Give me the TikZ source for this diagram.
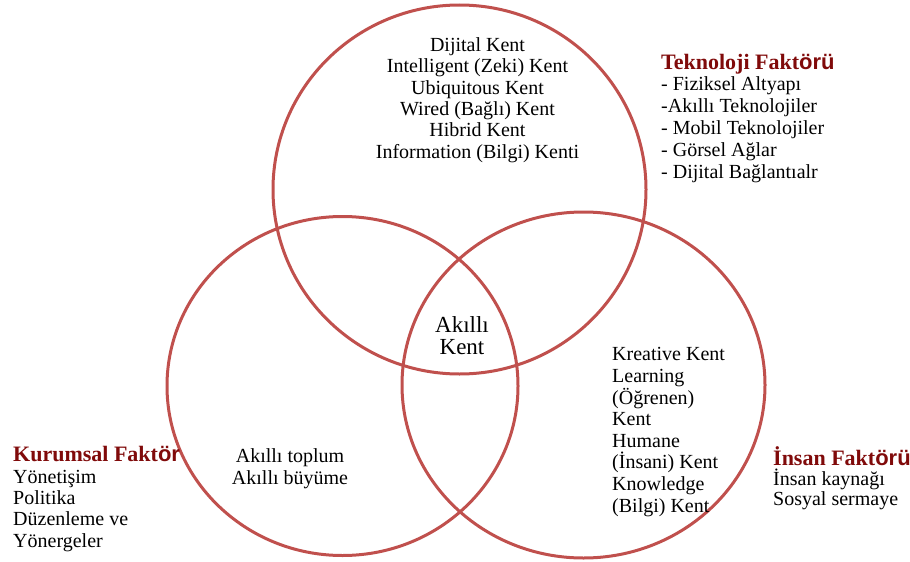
\documentclass[tikz,border=0pt]{standalone}
\usepackage{fontspec}
\setmainfont{Liberation Serif}
\newfontfamily\hsans{Liberation Sans}
\definecolor{ringred}{RGB}{192,80,77}
\definecolor{headred}{RGB}{128,10,10}
\tikzset{
  ring/.style={draw=ringred, line width=3pt},
  txt/.style={inner sep=0pt, font=\fontsize{20}{21.3}\selectfont},
  head/.style={txt, anchor=base west, align=left},
}
\newcommand{\hd}[2]{{\color{headred}\fontsize{22}{21}\selectfont\bfseries #1{\hsans\bfseries #2}}}
\begin{document}
\begin{tikzpicture}[x=1pt, y=-1pt]
        \useasboundingbox (0,0) rectangle (910,562);
        \draw[ring] (459.5,189.5) ellipse [x radius=186.5, y radius=184.5];
        \draw[ring] (342.5,386) ellipse [x radius=175.5, y radius=169.5];
        \draw[ring] (583.5,385) ellipse [x radius=181.5, y radius=173];

        % the last line of each node sits on the given point
        \node (tech) at (477.5,158) [txt, anchor=base, align=center]
          {Dijital Kent\\Intelligent (Zeki) Kent\\Ubiquitous Kent\\Wired (Bağlı) Kent\\Hibrid Kent\\Information (Bilgi) Kenti};
        \node (core) at (462,354) [inner sep=0pt, anchor=base, align=center,
          font=\fontsize{23}{22}\selectfont] {Akıllı\\Kent};
        \node (inst) at (290,484) [txt, anchor=base, align=center]
          {Akıllı toplum\\Akıllı büyüme};
        \node (human) at (612,512) [txt, anchor=base west, align=left,
          font=\fontsize{20}{21.6}\selectfont]
          {Kreative Kent\\Learning\\(Öğrenen)\\Kent\\Humane\\(İnsani) Kent\\Knowledge\\(Bilgi) Kent};

        \node (techf) at (661,178) [head, font=\fontsize{20}{21.8}\selectfont]
          {\hd{Teknoloji Fakt}{örü}\\- Fiziksel Altyapı\\-Akıllı Teknolojiler\\- Mobil Teknolojiler\\- Görsel Ağlar\\- Dijital Bağlantıalr};
        \node (instf) at (13,547) [head]
          {\hd{Kurumsal Fakt}{ör}\\Yönetişim\\Politika\\Düzenleme ve\\Yönergeler};
        \node (humanf) at (773,505) [head, font=\fontsize{20}{20}\selectfont]
          {\hd{İnsan Fakt}{örü}\\İnsan kaynağı\\Sosyal sermaye};
\end{tikzpicture}
\end{document}
